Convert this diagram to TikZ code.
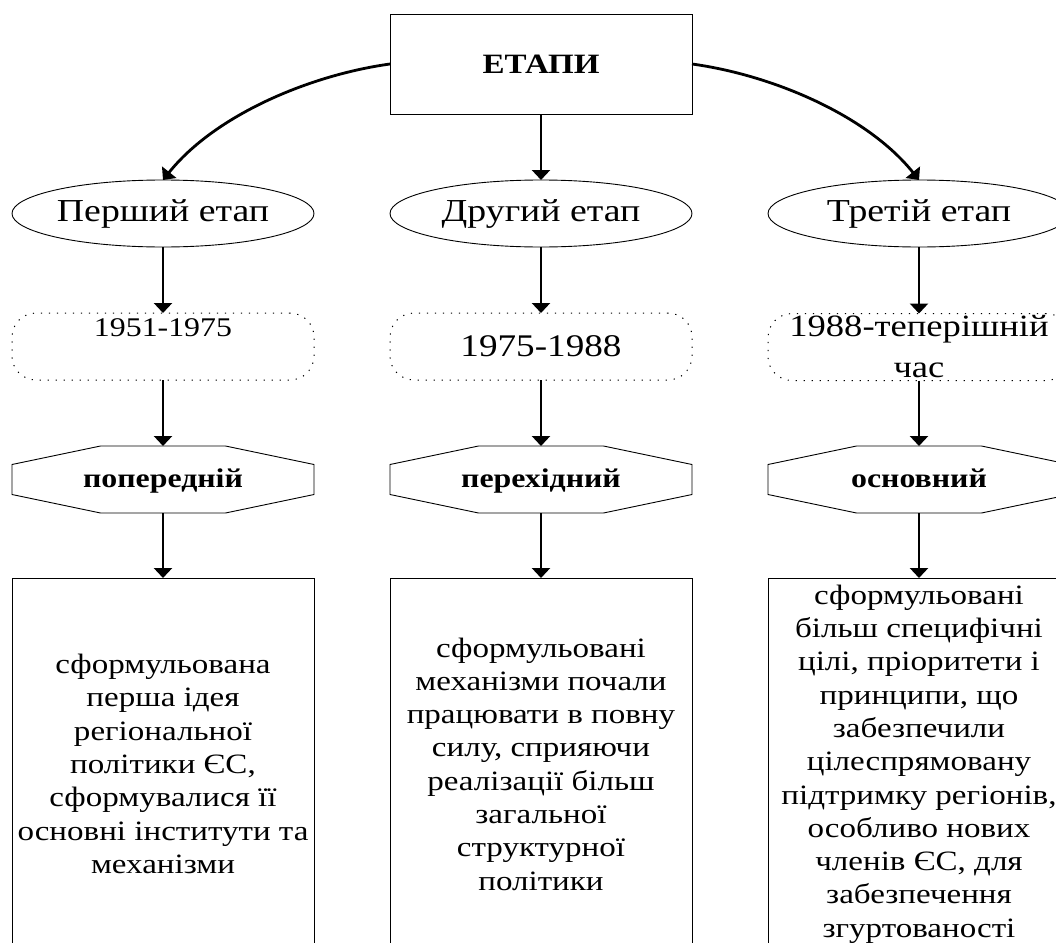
\documentclass[tikz,border=0pt]{standalone}
\usepackage{fontspec}
\setmainfont{Liberation Serif}[FakeStretch=1.18]
\usetikzlibrary{arrows.meta,shapes.geometric}
\newcommand\octout[1]{\draw[line width=0.9pt] ([yshift=15pt]#1.west) -- ([xshift=-62.5pt]#1.north) -- ([xshift=62.5pt]#1.north) -- ([yshift=15pt]#1.east) -- ([yshift=-15pt]#1.east) -- ([xshift=62.5pt]#1.south) -- ([xshift=-62.5pt]#1.south) -- ([yshift=-15pt]#1.west) -- cycle;}
\begin{document}
\begin{tikzpicture}[x=1pt,y=-1pt,
 base/.style={draw=black,line width=0.9pt,inner sep=0pt,outer sep=0pt,align=center},
 topbox/.style={base,rectangle,minimum width=302pt,minimum height=100pt,font=\bfseries\fontsize{28}{33}\selectfont},
 stage/.style={base,ellipse,minimum width=302pt,minimum height=67pt,font=\fontsize{32}{38}\selectfont},
 period/.style={base,rectangle,rounded corners=24pt,line width=1pt,dash pattern=on 1.2pt off 6.8pt,minimum width=302pt,minimum height=67pt,font=\fontsize{31}{41}\selectfont},
 plain/.style={inner sep=0pt,outer sep=0pt,align=center},
 kind/.style={plain,rectangle,minimum width=302pt,minimum height=67pt,text height=22pt,text depth=7pt,font=\bfseries\fontsize{27}{32}\selectfont},
 desc/.style={base,rectangle,minimum width=302pt,minimum height=372pt,font=\fontsize{28}{33.3}\selectfont},
 arr/.style={line width=2.8pt,-{Triangle[width=18pt,length=10pt]}}]
\path[use as bounding box] (0,0) rectangle (1056,942);
\clip (0,0) rectangle (1056,942);
\fill[white] (0,0) rectangle (1056,942);

\node[topbox] (top) at (541,64) {ЕТАПИ};

\node[stage] (s1) at (163,213.5) {Перший етап};
\node[stage] (s2) at (541,213.5) {Другий етап};
\node[stage] (s3) at (919,213.5) {Третій етап};

\node[period] (p1) at (163,346.5) {};
\node[plain,font=\fontsize{27}{32}\selectfont] (p1t) at (163,328) {1951-1975};
\node[period,font=\fontsize{31.5}{41}\selectfont] (p2) at (541,346.5) {1975-1988};
\node[period] (p3) at (919,347) {1988-теперішній\\час};

\node[kind] (k1) at (163,479.5) {попередній};
\node[kind] (k2) at (541,479.5) {перехідний};
\node[kind] (k3) at (919,479.5) {основний};
\octout{k1}\octout{k2}\octout{k3}

\node[desc] (d1) at (163,764) {сформульована\\перша ідея\\регіональної\\політики ЄС,\\сформувалися її\\основні інститути та\\механізми};
\node[desc] (d2) at (541,764) {сформульовані\\механізми почали\\працювати в повну\\силу, сприяючи\\реалізації більш\\загальної\\структурної\\політики};
\node[desc] (d3) at (919,764) {сформульовані\\більш специфічні\\цілі, пріоритети і\\принципи, що\\забезпечили\\цілеспрямовану\\підтримку регіонів,\\особливо нових\\членів ЄС, для\\забезпечення\\згуртованості};

\draw[arr] (top.west) .. controls (310,75) and (215,115) .. (s1.north);
\draw[arr] (top.south) -- (s2.north);
\draw[arr] (top.east) .. controls (772,75) and (867,115) .. (s3.north);
\foreach \i in {1,2,3}{
  \draw[arr] (s\i.south) -- (p\i.north);
  \draw[arr] (p\i.south) -- (k\i.north);
  \draw[arr] (k\i.south) -- (d\i.north);
}
\end{tikzpicture}
\end{document}
